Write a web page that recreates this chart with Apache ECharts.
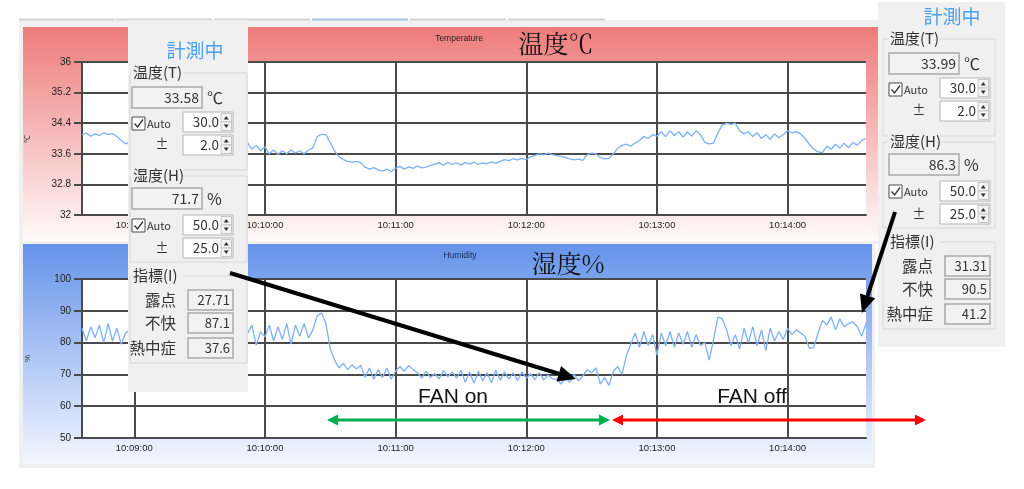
<!DOCTYPE html>
<html><head><meta charset="utf-8">
<script src="https://cdn.jsdelivr.net/npm/echarts@6/dist/echarts.min.js"></script>
<style>html,body{margin:0;padding:0;background:#fff}#c{width:1024px;height:489px}</style>
</head><body><div id="c"></div>
<script>
// ---- data ----
const startClock = [10, 8, 36];
const stepSeconds = 2;
const temperature = [
34.10,34.14,34.06,34.12,34.08,34.15,34.10,34.13,34.05,33.95,33.86,
33.92,33.85,33.90,33.82,33.88,33.80,33.86,33.78,33.84,33.80,33.87,33.79,33.85,33.81,33.88,33.80,33.86,33.78,33.84,33.80,33.86,33.79,33.85,33.82,33.88,33.80,33.86,
33.89,33.72,33.82,33.68,33.78,
33.60,33.70,33.58,33.68,33.60,33.70,33.62,33.68,33.60,33.70,33.75,
34.05,34.11,34.10,
33.89,33.67,33.52,33.45,
33.40,33.38,33.40,33.37,
33.25,33.20,33.24,33.18,33.15,33.20,33.13,
33.22,33.27,33.20,33.26,33.22,33.28,33.23,33.25,33.30,
33.33,33.37,33.30,33.38,33.32,33.36,33.31,33.37,33.33,33.38,33.32,33.36,33.34,33.39,33.35,33.40,
33.45,33.42,33.47,33.44,33.48,33.45,
33.52,33.56,33.60,33.57,33.62,33.58,33.55,33.53,
33.50,33.47,33.44,33.46,33.43,
33.58,33.62,33.60,
33.50,33.47,33.48,
33.60,33.75,33.82,
33.85,33.80,33.88,
33.95,34.05,34.00,34.10,34.06,
34.18,34.05,34.20,34.08,34.18,34.04,34.17,34.06,34.20,34.10,
33.90,33.86,33.88,
34.15,34.35,34.40,34.37,34.40,
34.20,34.12,34.18,34.05,34.15,34.00,34.10,33.98,34.12,34.02,34.10,
34.20,34.15,34.18,34.12,
34.00,33.85,33.72,33.65,33.63,
33.80,33.72,33.85,33.75,33.88,33.76,33.90,33.82,33.95,34.00
];
const humidity = [
84.5,80.5,85.0,81.5,85.5,80.0,86.0,80.5,84.5,79.5,83.0,
84.0,80.0,85.0,81.0,84.5,79.5,85.5,80.5,84.0,81.0,85.0,79.0,84.5,80.0,85.5,81.5,84.0,80.0,85.0,80.5,84.5,79.5,85.0,81.0,84.0,80.5,84.5,
82.8,85.5,79.2,83.4,81.8,
85.5,80.5,85.0,81.0,86.0,79.5,85.5,82.0,86.0,81.5,
84.0,88.5,89.3,86.0,78.0,
74.5,72.0,73.5,71.5,73.0,71.8,72.8,
69.0,72.0,68.5,71.5,69.0,72.0,68.5,71.0,
72.5,71.0,72.8,71.5,
70.5,68.8,71.0,69.0,70.2,68.6,71.2,69.2,70.8,68.8,
71.3,67.5,70.8,67.2,71.0,68.0,70.5,67.4,71.3,68.2,
70.8,68.5,70.5,68.1,70.8,68.8,70.2,68.4,70.6,68.2,69.8,68.6,
68.5,67.0,69.0,67.5,70.0,68.0,69.5,
71.5,70.5,72.0,
67.0,69.0,66.5,
71.0,72.5,70.0,
76.0,79.5,
83.0,78.5,83.5,79.0,82.5,
76.1,
83.0,79.0,83.5,78.5,83.0,79.5,83.5,78.5,82.5,79.0,
80.0,74.5,
81.0,88.0,87.5,
84.0,79.0,82.5,
78.0,84.5,80.0,85.0,79.0,84.0,77.5,84.5,80.5,83.5,81.0,
84.5,82.5,84.0,83.0,82.0,
78.2,
78.5,83.0,87.0,85.5,
88.0,84.0,87.5,85.0,86.0,86.5,85.0,82.0,86.0
];
const tempRange = [32, 36, 0.8];
const humRange = [50, 100, 10];
const panelLeftValues = ['33.58','30.0','2.0','71.7','50.0','25.0','27.71','87.1','37.6'];
const panelRightValues = ['33.99','30.0','2.0','86.3','50.0','25.0','31.31','90.5','41.2'];

// ---- build ----
const pad = n => String(n).padStart(2, '0');
const startSec = startClock[0]*3600 + startClock[1]*60 + startClock[2];
const categories = temperature.map((_, i) => {
  const s = startSec + i*stepSeconds;
  return pad(Math.floor(s/3600)) + ':' + pad(Math.floor(s/60)%60) + ':' + pad(s%60);
});
const onMinute = (idx, val) => String(val).endsWith(':00');

const AX = '#4a4a4a';
const LBL = 'Liberation Sans, Arial, sans-serif';
function xAxisFor(gi) {
  return {
    type: 'category', gridIndex: gi, data: categories, boundaryGap: false,
    axisLine: { lineStyle: { color: AX, width: 2 } },
    axisTick: { show: false, interval: onMinute },
    axisLabel: { interval: onMinute, color: '#222', fontSize: 9.5, fontFamily: LBL, margin: 5 },
    splitLine: { show: true, interval: onMinute, lineStyle: { color: AX, width: 2 } }
  };
}
function yAxisFor(gi, r, name) {
  return {
    type: 'value', gridIndex: gi, min: r[0], max: r[1], interval: r[2],
    name: name, nameLocation: 'middle', nameGap: 50,
    nameTextStyle: { fontSize: 8, color: '#333', fontFamily: LBL },
    axisLine: { show: true, lineStyle: { color: AX, width: 2 } },
    axisTick: { show: true, length: 8, lineStyle: { color: AX, width: 2 } },
    axisLabel: { color: '#222', fontSize: 10, fontFamily: LBL, margin: 11,
      formatter: v => String(parseFloat(Number(v).toFixed(1))) },
    splitLine: { show: true, lineStyle: { color: AX, width: 2 } }
  };
}

// ---- graphic helpers ----
const CJK = '"Noto Sans CJK JP", "Noto Sans", sans-serif';
let zc = 0;
function T(s, x, y, size, align, color, family, z) {
  return { type: 'text', z: (z || 100) + (zc++)*0.001, style: {
    text: s, x: x, y: y, fontSize: size, fontFamily: family || CJK, fill: color || '#333',
    align: align || 'left', textAlign: align || 'left', verticalAlign: 'middle', textVerticalAlign: 'middle' } };
}
function R(x, y, w, h, fill, stroke, lw, z) {
  return { type: 'rect', z: (z || 100) + (zc++)*0.001, shape: { x: x, y: y, width: w, height: h },
    style: { fill: fill || 'none', stroke: stroke || null, lineWidth: lw || 1 } };
}
function P(points, fill, z) {
  return { type: 'polygon', z: (z || 100) + (zc++)*0.001, shape: { points: points }, style: { fill: fill } };
}
function L(points, stroke, lw, z) {
  return { type: 'polyline', z: (z || 100) + (zc++)*0.001, shape: { points: points },
    style: { stroke: stroke, lineWidth: lw, fill: 'none' } };
}
function head(tx, ty, fx, fy, len, hw, color, z) {
  const dx = tx - fx, dy = ty - fy, D = Math.hypot(dx, dy), ux = dx/D, uy = dy/D;
  const bx = tx - ux*len, by = ty - uy*len;
  return { base: [bx, by], el: P([[tx, ty], [bx - uy*hw, by + ux*hw], [bx + uy*hw, by - ux*hw]], color, z) };
}
function arrow(x1, y1, x2, y2, color, lw, len, hw, both, z) {
  const out = [];
  const h2 = head(x2, y2, x1, y1, len, hw, color, z);
  let s = [x1, y1];
  if (both) { const h1 = head(x1, y1, x2, y2, len, hw, color, z); s = h1.base; out.push(h1.el); }
  out.push(L([s, h2.base], color, lw, z));
  out.push(h2.el);
  return out;
}

function panel(px, py, pw, ph, ox, oy, boxL, boxR, v) {
  const e = [];
  e.push(R(px, py, pw, ph, '#f0f0f0'));
  e.push(T('計測中', ox + 67, oy + 24, 19, 'center', '#4aa0f2'));
  const groups = [[46, 143, '温度(T)'], [149, 235, '湿度(H)'], [249, 336, '指標(I)']];
  groups.forEach(g => {
    e.push(R(ox + boxL, oy + g[0], boxR - boxL, g[1] - g[0], 'none', '#d6d6d6', 1));
    e.push(R(ox + 3, oy + g[0] - 9, 52, 18, '#f0f0f0'));
    e.push(T(g[2], ox + 5, oy + g[0] - 1, 15, 'left', '#333'));
  });
  [[60, v[0], '℃'], [161, v[3], '%']].forEach(r => {
    e.push(R(ox + 4, oy + r[0], 70, 21, '#f2f2f2', '#a9a9a9', 1.5));
    e.push(T(r[1], ox + 71, oy + r[0] + 10.5, 14, 'right', '#333'));
    e.push(T(r[2], ox + 79, oy + r[0] + 11, 16, 'left', '#333'));
  });
  [90, 192].forEach(y => {
    e.push(R(ox + 4, oy + y, 13, 13, '#fff', '#4a4a4a', 1));
    e.push(L([[ox + 6.5, oy + y + 6.5], [ox + 9.5, oy + y + 10], [ox + 15, oy + y + 2.5]], '#333', 1.3));
    e.push(T('Auto', ox + 19, oy + y + 7, 11, 'left', '#333'));
  });
  [116, 220].forEach(y => e.push(T('±', ox + 34, oy + y, 13, 'center', '#333')));
  [[85, v[1]], [108, v[2]], [188, v[4]], [211, v[5]]].forEach(s => {
    e.push(R(ox + 55, oy + s[0], 50, 20, '#fff', '#b4b4b4', 1));
    e.push(T(s[1], ox + 91, oy + s[0] + 10, 13.5, 'right', '#333'));
    e.push(R(ox + 93, oy + s[0] + 1.5, 10.5, 8.5, '#f3f3f3', '#c6c6c6', 1));
    e.push(R(ox + 93, oy + s[0] + 10, 10.5, 8.5, '#f3f3f3', '#c6c6c6', 1));
    const cx = ox + 98.25;
    e.push(P([[cx - 2.5, oy + s[0] + 7.5], [cx + 2.5, oy + s[0] + 7.5], [cx, oy + s[0] + 4]], '#333'));
    e.push(P([[cx - 2.5, oy + s[0] + 12.5], [cx + 2.5, oy + s[0] + 12.5], [cx, oy + s[0] + 16]], '#333'));
  });
  [[263, '露点', v[6]], [286, '不快', v[7]], [311, '熱中症', v[8]]].forEach(r => {
    e.push(T(r[1], ox + 48, oy + r[0] + 10, 15.5, 'right', '#333'));
    e.push(R(ox + 60, oy + r[0], 45, 20, '#f2f2f2', '#a9a9a9', 1.5));
    e.push(T(r[2], ox + 102, oy + r[0] + 10, 13, 'right', '#333'));
  });
  return e;
}

const graphics = [];
graphics.push(R(19, 20, 859, 224, '#f0f0f0', null, 1, -10));
graphics.push(R(19, 244, 856, 224, '#f0f0f0', null, 1, -10));
[[19, 96, '#d4d4d4'], [116, 96, '#d4d4d4'], [214, 96, '#d4d4d4'], [312, 96, '#a6c4e6'], [410, 96, '#d4d4d4'], [508, 97, '#d4d4d4']]
  .forEach(t => graphics.push(R(t[0], 18.5, t[1], 2, t[2], null, 1, -9)));
graphics.push({ type: 'rect', z: -9, shape: { x: 23, y: 27, width: 855, height: 214 },
  style: { fill: new echarts.graphic.LinearGradient(0, 0, 0, 1, [{ offset: 0, color: '#ee7b7b' }, { offset: 1, color: '#fffafa' }]) } });
graphics.push({ type: 'rect', z: -9, shape: { x: 23, y: 244, width: 849, height: 220 },
  style: { fill: new echarts.graphic.LinearGradient(0, 0, 0, 1, [{ offset: 0, color: '#6593ea' }, { offset: 1, color: '#f4f7ff' }]) } });
graphics.push(T('Temperature', 459, 39, 8.5, 'center', '#2a1a1a', LBL, 5));
graphics.push(T('温度℃', 556, 43, 25, 'center', '#111', '"Noto Serif CJK JP", "Noto Sans CJK JP", serif', 5));
graphics.push(T('Humidity', 460, 256, 8.5, 'center', '#1a2550', LBL, 5));
graphics.push(T('湿度%', 568, 263, 25, 'center', '#111', '"Noto Serif CJK JP", "Noto Sans CJK JP", serif', 5));
panel(128, 20, 120, 372, 128, 27, 2, 119, panelLeftValues).forEach(g => graphics.push(g));
panel(878, 2, 127, 345, 885, -7, -2, 110, panelRightValues).forEach(g => graphics.push(g));
graphics.push(T('FAN on', 453, 397, 21, 'center', '#111', LBL, 120));
graphics.push(T('FAN off', 752, 397, 21, 'center', '#111', LBL, 120));
arrow(327, 420, 610, 420, '#00b050', 2.8, 11, 5.5, true, 120).forEach(g => graphics.push(g));
arrow(612, 420, 926, 420, '#ff0000', 2.8, 11, 5.5, true, 120).forEach(g => graphics.push(g));
arrow(230, 273, 576, 379, '#000', 4, 18, 8, false, 130).forEach(g => graphics.push(g));
arrow(895, 212, 862, 313, '#000', 4, 18, 8, false, 130).forEach(g => graphics.push(g));

const chart = echarts.init(document.getElementById('c'), null, { renderer: 'canvas' });
chart.setOption({
  animation: false,
  backgroundColor: '#ffffff',
  grid: [
    { left: 82, width: 784, top: 62, height: 153, show: true, backgroundColor: '#ffffff', borderWidth: 0 },
    { left: 82, width: 784, top: 279, height: 159, show: true, backgroundColor: '#ffffff', borderWidth: 0 }
  ],
  xAxis: [xAxisFor(0), xAxisFor(1)],
  yAxis: [yAxisFor(0, tempRange, '℃'), yAxisFor(1, humRange, '%')],
  series: [
    { type: 'line', xAxisIndex: 0, yAxisIndex: 0, data: temperature, symbol: 'none',
      lineStyle: { color: '#7db1f6', width: 1.3 } },
    { type: 'line', xAxisIndex: 1, yAxisIndex: 1, data: humidity, symbol: 'none',
      lineStyle: { color: '#7db1f6', width: 1.3 } }
  ],
  graphic: graphics
});
</script></body></html>
